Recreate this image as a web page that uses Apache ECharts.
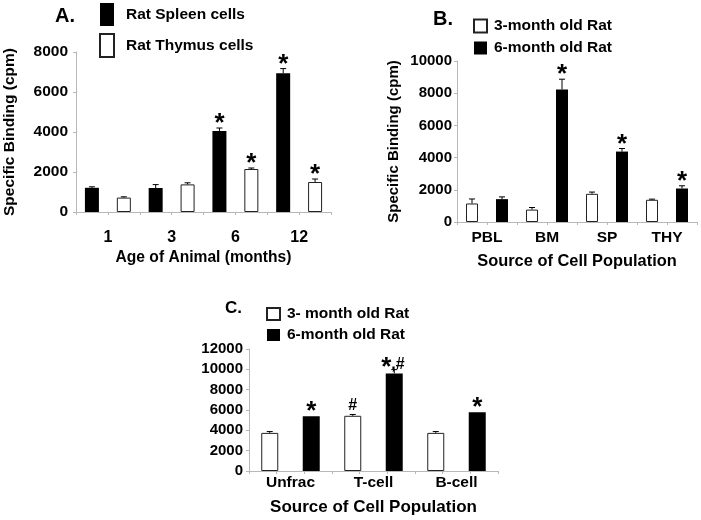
<!DOCTYPE html>
<html>
<head>
<meta charset="utf-8">
<script src="https://cdn.jsdelivr.net/npm/echarts@6/dist/echarts.min.js"></script>
<style>
  html, body { margin: 0; padding: 0; background: #fff; }
  #chart { width: 701px; height: 520px; }
</style>
</head>
<body>
<div id="chart"></div>
<script>
// ---------- Panel A ----------
const catsA = ['1', '3', '6', '12'];
const spleen = [1210, 1200, 4050, 6940];
const spleenErr = [50, 170, 150, 230];
const spleenMarks = ['', '', '*', '*'];
const thymus = [720, 1380, 2150, 1500];
const thymusErr = [40, 80, 50, 150];
const thymusMarks = ['', '', '*', '*'];
const yTicksA = [0, 2000, 4000, 6000, 8000];

// ---------- Panel B ----------
const catsB = ['PBL', 'BM', 'SP', 'THY'];
const b3 = [1150, 770, 1750, 1380];
const b3Err = [280, 130, 110, 40];
const b3Marks = ['', '', '', ''];
const b6 = [1420, 8230, 4375, 2080];
const b6Err = [140, 640, 190, 170];
const b6Marks = ['', '*', '*', '*'];
const yTicksB = [0, 2000, 4000, 6000, 8000, 10000];

// ---------- Panel C ----------
const catsC = ['Unfrac', 'T-cell', 'B-cell'];
const c3 = [3750, 5430, 3750];
const c3Err = [130, 130, 130];
const c3Marks = ['', '#', ''];
const c6 = [5390, 9600, 5790];
const c6Err = [0, 370, 0];
const c6Marks = ['*', '*,#', '*'];
const yTicksC = [0, 2000, 4000, 6000, 8000, 10000, 12000];

const FONT = '"Liberation Sans", Arial, Helvetica, sans-serif';
const AXIS_GRAY = '#b8b8b8';

function errRender(side, marks) {
  return function (params, api) {
    const i = api.value(0), v = api.value(1), e = api.value(2);
    const band = api.size([1, 0])[0];
    const base = api.coord([i, v]);
    const x = base[0] + side * band / 4;
    const top = api.coord([i, v + e])[1];
    const children = [];
    if (e > 0) {
      children.push({ type: 'line', shape: { x1: x, y1: base[1], x2: x, y2: top }, style: { stroke: '#000', lineWidth: 1 } });
      children.push({ type: 'line', shape: { x1: x - 3, y1: top, x2: x + 3, y2: top }, style: { stroke: '#000', lineWidth: 1 } });
    }
    const m = marks[params.dataIndex];
    if (m) {
      if (m === '*') {
        children.push({ type: 'text', x: x, y: top - 4, style: { text: '*', fontSize: 26, fontWeight: 'bold', fontFamily: FONT, fill: '#000', align: 'center', verticalAlign: 'middle' } });
      } else if (m[0] === '*') {
        children.push({ type: 'text', x: x - 8, y: top - 2, style: { text: '*', fontSize: 26, fontWeight: 'bold', fontFamily: FONT, fill: '#000', align: 'center', verticalAlign: 'middle' } });
        children.push({ type: 'text', x: x - 3, y: top - 5, style: { text: m.slice(1), fontSize: 16, fontWeight: 'bold', fontFamily: FONT, fill: '#000', align: 'left', verticalAlign: 'middle' } });
      } else {
        children.push({ type: 'text', x: x, y: top - 9, style: { text: m, fontSize: 16, fontWeight: 'bold', fontFamily: FONT, fill: '#000', align: 'center', verticalAlign: 'middle' } });
      }
    }
    return { type: 'group', children: children };
  };
}

function yAxisFor(grid, ticks, fs, margin, name, nameGap) {
  return {
    type: 'value', gridIndex: grid, min: ticks[0], max: ticks[ticks.length - 1],
    interval: ticks[1] - ticks[0],
    axisLine: { show: true, lineStyle: { color: AXIS_GRAY, width: 1 } },
    axisTick: { show: true, length: 3, lineStyle: { color: AXIS_GRAY } },
    splitLine: { show: false },
    axisLabel: { fontSize: fs, fontWeight: 'bold', color: '#000', fontFamily: FONT, margin: margin,
      formatter: function (v) { return String(v); } },
    name: name, nameLocation: 'middle', nameGap: nameGap,
    nameTextStyle: { fontSize: fs, fontWeight: 'bold', color: '#000', fontFamily: FONT }
  };
}

function xAxisFor(grid, cats, fs, margin, name, nameGap, nameFs) {
  return {
    type: 'category', gridIndex: grid, data: cats,
    axisLine: { show: true, lineStyle: { color: AXIS_GRAY, width: 1 } },
    axisTick: { show: false },
    axisLabel: { fontSize: fs, fontWeight: 'bold', color: '#000', fontFamily: FONT, margin: margin, interval: 0 },
    name: name, nameLocation: 'middle', nameGap: nameGap,
    nameTextStyle: { fontSize: nameFs, fontWeight: 'bold', color: '#000', fontFamily: FONT }
  };
}

function tickAxisFor(grid, slots) {
  return {
    type: 'category', gridIndex: grid, data: new Array(slots).fill(''),
    position: 'bottom',
    axisLine: { show: false },
    axisLabel: { show: false },
    axisTick: { show: true, length: 3, interval: 0, lineStyle: { color: AXIS_GRAY } }
  };
}

const blackStyle = { color: '#000' };
const whiteStyle = { color: '#fff', borderColor: '#222', borderWidth: 1 };

function barSeries(name, data, xi, yi, style, width, gap) {
  return { type: 'bar', name: name, data: data, xAxisIndex: xi, yAxisIndex: yi, itemStyle: style, barWidth: width, barGap: gap, silent: true };
}
function errSeries(vals, errs, marks, xi, yi, side) {
  return {
    type: 'custom', xAxisIndex: xi, yAxisIndex: yi, z: 5, silent: true,
    renderItem: errRender(side, marks),
    data: vals.map(function (v, i) { return [i, v, errs[i]]; })
  };
}

const legendText = function (fs, padLeft) {
  return { fontSize: fs, fontWeight: 'bold', color: '#000', fontFamily: FONT, padding: [0, 0, 0, padLeft] };
};

const option = {
  animation: false,
  backgroundColor: '#fff',
  textStyle: { fontFamily: FONT },
  title: [
    { text: 'A.', left: 55, top: 6, padding: 0, textStyle: { fontSize: 20, fontWeight: 'bold', color: '#000', fontFamily: FONT } },
    { text: 'B.', left: 433, top: 9, padding: 0, textStyle: { fontSize: 20, fontWeight: 'bold', color: '#000', fontFamily: FONT } },
    { text: 'C.', left: 225, top: 300, padding: 0, textStyle: { fontSize: 17, fontWeight: 'bold', color: '#000', fontFamily: FONT } }
  ],
  legend: [
    { data: ['Rat Spleen cells', 'Rat Thymus cells'], left: 99, top: 3, orient: 'vertical', padding: 0,
      itemWidth: 14, itemHeight: 23, itemGap: 7, icon: 'rect', selectedMode: false, textStyle: legendText(15.5, 7) },
    { data: ['3-month old Rat', '6-month old Rat'], left: 473, top: 18, orient: 'vertical', padding: 0,
      itemWidth: 13, itemHeight: 13, itemGap: 6, icon: 'rect', selectedMode: false, textStyle: legendText(15.5, 2) },
    { data: ['3- month old Rat', '6-month old Rat'], left: 266, top: 306, orient: 'vertical', padding: 0,
      itemWidth: 13, itemHeight: 12, itemGap: 5, icon: 'rect', selectedMode: false, textStyle: legendText(15.5, 2) }
  ],
  grid: [
    { left: 76, top: 52, width: 255, height: 160 },
    { left: 457, top: 61, width: 240, height: 161 },
    { left: 249, top: 349, width: 249, height: 122 }
  ],
  xAxis: [
    xAxisFor(0, catsA, 16, 18, 'Age of Animal (months)', 38, 15.6),
    xAxisFor(1, catsB, 15.5, 8, 'Source of Cell Population', 31, 16.4),
    xAxisFor(2, catsC, 15.5, 4, 'Source of Cell Population', 28, 17),
    tickAxisFor(0, 8),
    tickAxisFor(1, 8),
    tickAxisFor(2, 9)
  ],
  yAxis: [
    yAxisFor(0, yTicksA, 15.5, 8, 'Specific Binding (cpm)', 58),
    yAxisFor(1, yTicksB, 15, 5, 'Specific Binding (cpm)', 56),
    yAxisFor(2, yTicksC, 15, 6, '', 0)
  ],
  series: [
    barSeries('Rat Spleen cells', spleen, 0, 0, blackStyle, 14, '128%'),
    barSeries('Rat Thymus cells', thymus, 0, 0, whiteStyle, 14, '128%'),
    errSeries(spleen, spleenErr, spleenMarks, 0, 0, -1),
    errSeries(thymus, thymusErr, thymusMarks, 0, 0, 1),

    barSeries('3-month old Rat', b3, 1, 1, whiteStyle, 12, '150%'),
    barSeries('6-month old Rat', b6, 1, 1, blackStyle, 12, '150%'),
    errSeries(b3, b3Err, b3Marks, 1, 1, -1),
    errSeries(b6, b6Err, b6Marks, 1, 1, 1),

    barSeries('3- month old Rat', c3, 2, 2, whiteStyle, 17, '144%'),
    barSeries('6-month old Rat', c6, 2, 2, blackStyle, 17, '144%'),
    errSeries(c3, c3Err, c3Marks, 2, 2, -1),
    errSeries(c6, c6Err, c6Marks, 2, 2, 1)
  ]
};

const chart = echarts.init(document.getElementById('chart'), null, { renderer: 'canvas' });
chart.setOption(option);
</script>
</body>
</html>
